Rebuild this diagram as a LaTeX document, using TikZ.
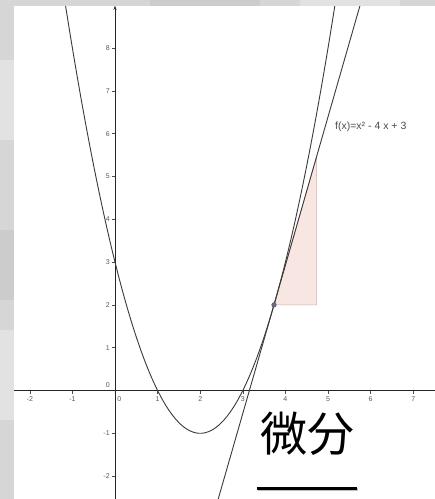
\documentclass[tikz,border=0pt]{standalone}
\usepackage{fontspec}
\setmainfont{Liberation Sans}
\newfontfamily\cjk{Noto Sans CJK JP}
\usetikzlibrary{arrows.meta}
\definecolor{bggrey}{HTML}{D6D6D6}
\definecolor{bglight}{HTML}{E2E2E2}
\definecolor{bgdark}{HTML}{CCCCCC}
\definecolor{curvecol}{HTML}{3A3A3A}
\definecolor{ticklab}{HTML}{5A5A5A}
\definecolor{trifill}{HTML}{F7E6E1}
\definecolor{triline}{HTML}{E2A8A0}
\definecolor{ptcol}{HTML}{4A4A5E}
\tikzset{
  axisline/.style={line width=0.7pt, black!85},
  tickmark/.style={line width=0.5pt, black!70},
  curve/.style={line width=0.9pt, curvecol},
  ticktext/.style={font=\fontsize{7}{7}\selectfont, text=ticklab, inner sep=0pt},
  slopetri/.style={fill=trifill, draw=triline, line width=0.6pt},
}
\begin{document}
\begin{tikzpicture}[x=1pt,y=-1pt]
\useasboundingbox (0,0) rectangle (435,499);
% textured grey background
\fill[bggrey] (0,0) rectangle (435,499);
\fill[bglight] (0,60) rectangle (14,140);
\fill[bgdark] (0,230) rectangle (14,300);
\fill[bglight] (0,330) rectangle (14,420);
\fill[bgdark] (150,0) rectangle (260,6);
\fill[bglight] (300,0) rectangle (400,6);
% white plot area
\fill[white] (14,6) rectangle (435,499);
\begin{scope}
\clip (14,6) rectangle (435,499);
\begin{scope}[shift={(115,390.5)},x=42.6pt,y=42.8pt]
  % slope triangle
  \coordinate (P) at ({2+sqrt(3)},2);
  \coordinate (Q) at ({3+sqrt(3)},2);
  \coordinate (R) at ({3+sqrt(3)},{2+2*sqrt(3)});
  \filldraw[slopetri] (P) -- (Q) -- (R) -- cycle;
  % axes
  \draw[axisline] (-2.4,0) -- (7.6,0);
  \draw[axisline,-{Stealth[length=4pt,width=3pt]}] (0,-2.6) -- (0,8.99);
  % ticks and labels
  \foreach \i in {-2,-1,1,2,3,4,5,6,7} {
    \draw[tickmark] (\i,0) -- (\i,-0.07);
    \node[ticktext] (xl\i) at (\i,-0.19) {\i};
  }
  \node[ticktext] (xl0) at (0.1,-0.19) {0};
  \foreach \j in {-2,-1,1,2,3,4,5,6,7,8} {
    \draw[tickmark] (0,\j) -- (-0.07,\j);
    \node[ticktext,anchor=east] (yl\j) at (-0.12,\j) {\j};
  }
  \node[ticktext,anchor=east] (yl0) at (-0.12,0.13) {0};
  % parabola
  \draw[curve] plot[domain=-1.25:5.25,samples=120,smooth] (\x,{\x*\x-4*\x+3});
  % tangent line
  \draw[curve] plot[domain=2.35:5.8,samples=2] (\x,{2*sqrt(3)*(\x-2-sqrt(3))+2});
  % tangent point
  \filldraw[fill=ptcol!80, draw=ptcol, line width=0.4pt] (P) circle[radius=2.3pt];
\end{scope}
\end{scope}
% function label
\node[anchor=west, inner sep=0pt, text=black!70, font=\fontsize{10.5}{10.5}\selectfont] (flabel) at (335,127) {f(x)=x² - 4 x + 3};
% title
\node[inner sep=0pt, text=black, font=\cjk\fontsize{47}{47}\selectfont] (title) at (307,434) {微分};
\coordinate (ulA) at (257,488);
\coordinate (ulB) at (357,488);
\draw[line width=3pt, black!25] ([shift={(1.2,1.5)}]ulA) -- ([shift={(1.2,1.5)}]ulB);
\draw[line width=3pt, black] (ulA) -- (ulB);
\end{tikzpicture}
\end{document}
